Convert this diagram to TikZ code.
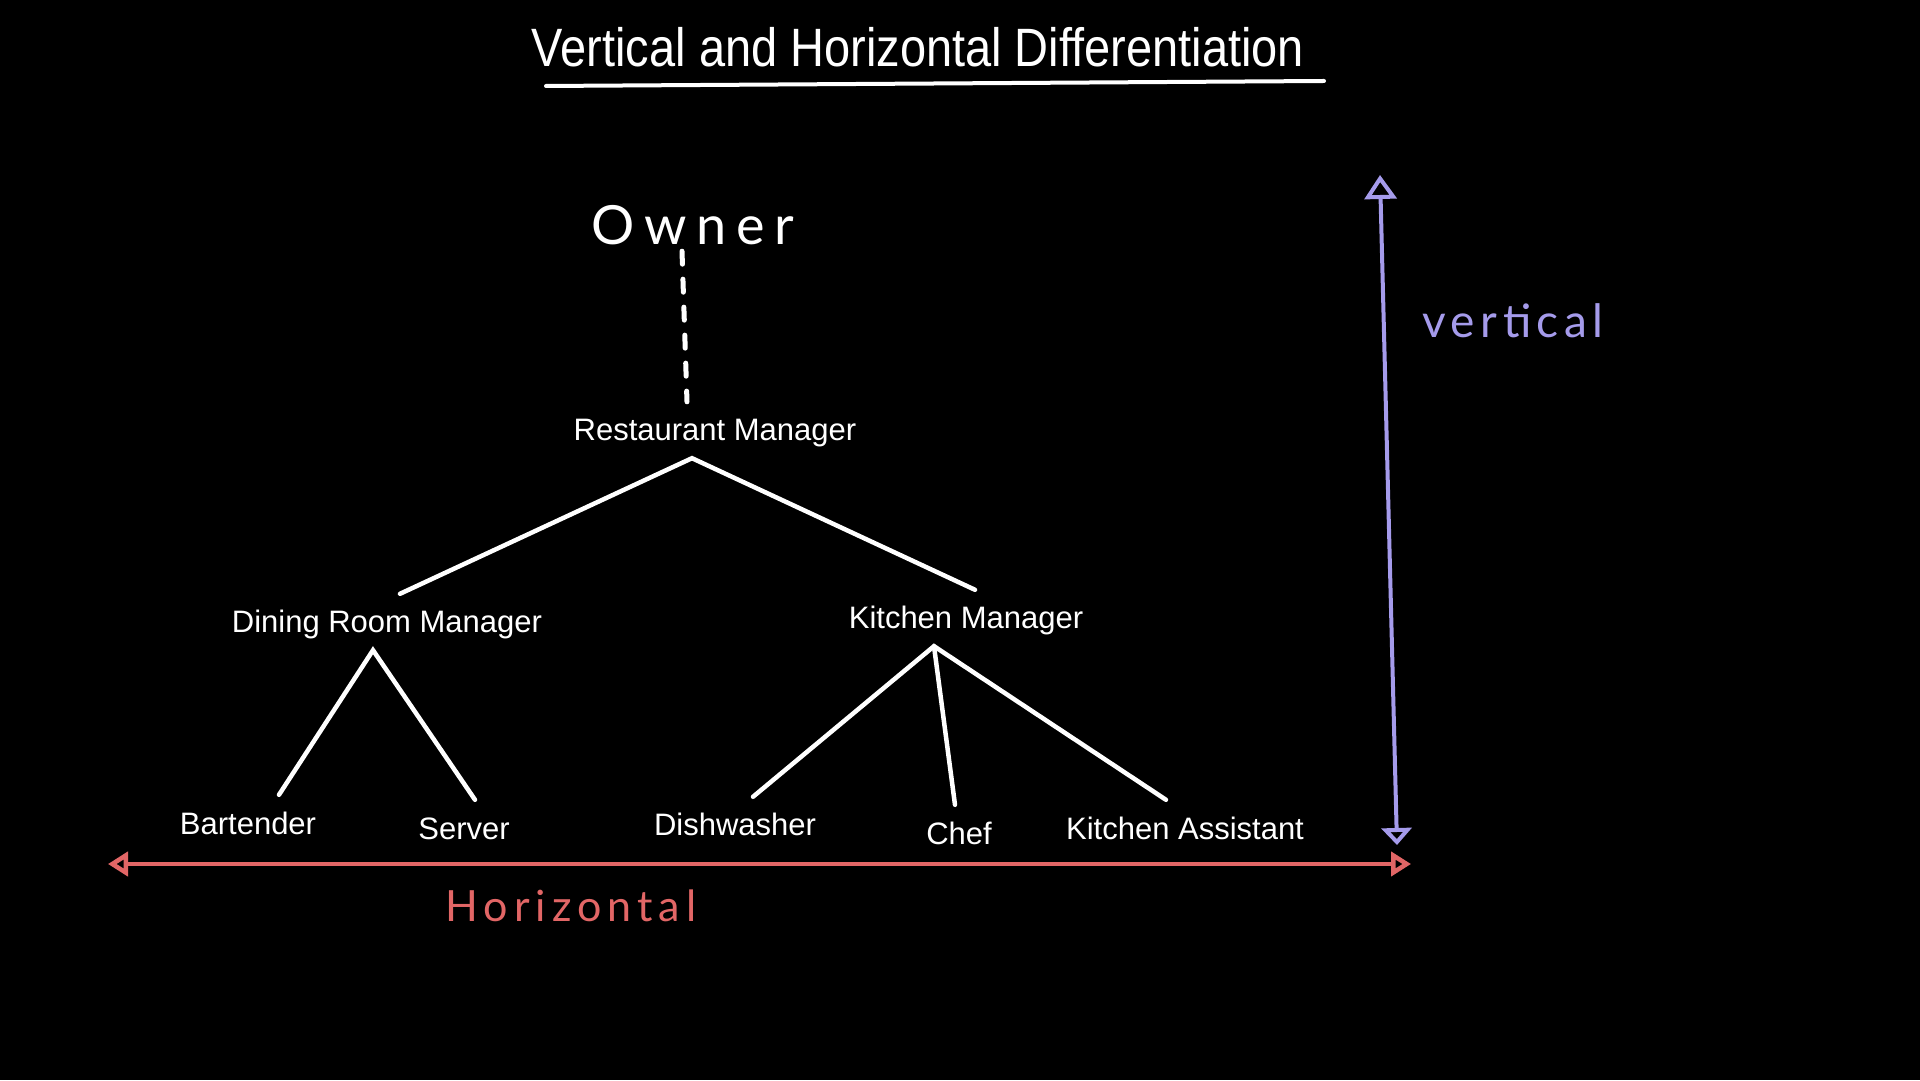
\documentclass[tikz,border=0pt]{standalone}
\usepackage{fontspec}
\setmainfont{Liberation Sans}
\newfontfamily\titlefont[FakeStretch=0.87]{Liberation Sans}
\newfontfamily\handfont{Lato}
\usetikzlibrary{arrows.meta}
\definecolor{hzred}{RGB}{226,102,102}
\definecolor{vtpurple}{RGB}{165,155,235}

\begin{document}
\begin{tikzpicture}[x=1pt, y=1pt,
  every node/.style={text=white, font=\fontsize{31}{36}\selectfont},
  job/.style={inner sep=14pt, text height=25pt, text depth=3pt},
  branch/.style={draw=white, line width=4.5pt, line cap=round},
  hand/.style={font=\handfont\fontsize{44}{50}\selectfont}]
  \fill[black] (0,0) rectangle (1920,1080);
  \node[anchor=base, font=\titlefont\fontsize{54}{60}\selectfont] (title) at (918,1013) {Vertical and Horizontal Differentiation};
  \draw[white, line width=4pt, line cap=round] (546,994) -- (1324,999);

  \node[hand, inner sep=0pt, text height=38pt, text depth=6pt] (owner) at (693,851) {\addfontfeature{LetterSpace=18}\fontsize{54}{60}\selectfont Owner};
  \node[job] (rm) at (715,650) {Restaurant Manager};
  \node[job] (drm) at (387,458) {Dining Room Manager};
  \node[job] (km) at (966,462) {Kitchen Manager};
  \node[job] (bart) at (248,257) {Bartender};
  \node[job] (serv) at (464,252) {Server};
  \node[job] (dish) at (735,255) {Dishwasher};
  \node[job] (chef) at (959,247) {Chef};
  \node[job] (ka) at (1185,252) {Kitchen Assistant};

  \draw[white, line width=5pt, line cap=round, dash pattern=on 13pt off 15pt] ([xshift=-11pt]owner.south) -- ([xshift=-28pt]rm.north);
  \draw[branch] ([xshift=13pt]drm.north) -- ([xshift=-23pt]rm.south) -- ([xshift=9pt]km.north);
  \draw[branch] ([xshift=31pt]bart.north) -- ([xshift=-14pt]drm.south) -- ([xshift=11pt]serv.north);
  \draw[branch] ([xshift=18pt]dish.north) -- ([xshift=-32pt]km.south) -- ([xshift=-19pt]ka.north);
  \draw[branch] ([xshift=-32pt]km.south) -- ([xshift=-4pt]chef.north);

  \coordinate (htail) at (108,216);
  \coordinate (hhead) at (1411,216);
  \draw[hzred, line width=4.5pt, {Triangle[open, length=20pt, width=24pt]}-{Triangle[open, length=20pt, width=24pt]}] (htail) -- (hhead);
  \node[hand, text=hzred] (hlabel) at (571,174) {\addfontfeature{LetterSpace=14}\fontsize{43}{50}\selectfont Horizontal};

  \coordinate (vtop) at (1380,905);
  \coordinate (vbot) at (1397,235);
  \draw[vtpurple, line width=4pt, {Triangle[open, length=17pt, width=30pt]}-{Triangle[open, length=24pt, width=32pt]}] (vbot) -- (vtop);
  \node[hand, text=vtpurple] (vlabel) at (1513,759) {\addfontfeature{LetterSpace=12}\fontsize{46}{52}\selectfont vertical};
\end{tikzpicture}
\end{document}
